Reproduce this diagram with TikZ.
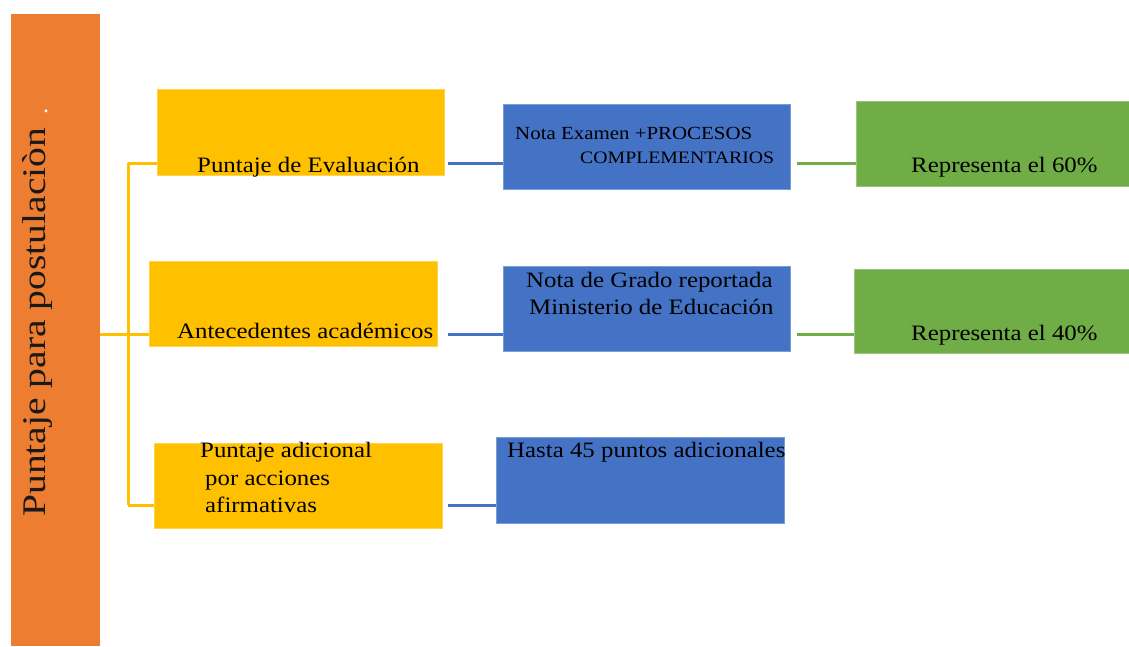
\documentclass[tikz,border=0pt]{standalone}
\usepackage{fontspec}
\setmainfont[FakeStretch=1.13]{Liberation Serif}
\newfontfamily\rotfont[FakeStretch=1.2]{Liberation Serif}
\definecolor{cOrange}{HTML}{ED7D31}
\definecolor{cYellow}{HTML}{FFC000}
\definecolor{cBlue}{HTML}{4472C4}
\definecolor{cGreen}{HTML}{70AD47}
\tikzset{
  box/.style={rectangle, inner sep=0, outer sep=0, line width=0.8pt},
  ybox/.style={box, fill=cYellow, draw=cYellow!70!white},
  bbox/.style={box, fill=cBlue, draw=cBlue!70!white},
  gbox/.style={box, fill=cGreen, draw=cGreen!70!white},
  obox/.style={box, fill=cOrange},
  txt/.style={inner sep=0, anchor=base west, text=black, font=\fontsize{22}{26}\selectfont},
  stxt/.style={txt, font=\fontsize{18.5}{22}\selectfont},
  yline/.style={draw=cYellow, line width=3pt},
  bline/.style={draw=cBlue, line width=3pt},
  gline/.style={draw=cGreen, line width=3pt},
}
\begin{document}
\begin{tikzpicture}[x=1pt,y=-1pt]
\useasboundingbox (0,0) rectangle (1129,646);
% boxes
\node[obox, minimum width=89pt, minimum height=632pt] (root) at (55.5,330) {};
\node[ybox, minimum width=287pt, minimum height=86pt] (y1) at (300.5,132) {};
\node[ybox, minimum width=288pt, minimum height=85pt] (y2) at (293,303.5) {};
\node[ybox, minimum width=288pt, minimum height=85pt] (y3) at (298,485.5) {};
\node[bbox, minimum width=287pt, minimum height=85pt] (b1) at (646.5,146.5) {};
\node[bbox, minimum width=287pt, minimum height=85pt] (b2) at (646.5,308.5) {};
\node[bbox, minimum width=288pt, minimum height=86pt] (b3) at (640,480) {};
\node[gbox, minimum width=273pt, minimum height=85pt] (g1) at (992.5,143.5) {};
\node[gbox, minimum width=275pt, minimum height=84pt] (g2) at (991.5,311) {};
% row coordinates
\coordinate (r1) at (128,163);
\coordinate (r2) at (128,334);
\coordinate (r3) at (128,505);
% yellow connectors
\draw[yline] (r1) -- (r3);
\draw[yline] (root.east |- r2) -- (y2.west |- r2);
\draw[yline] (r1) -- (y1.west |- r1);
\draw[yline] (r3) -- (y3.west |- r3);
% blue connectors
\draw[bline] ([xshift=4pt]y1.east |- r1) -- (b1.west |- r1);
\draw[bline] ([xshift=11pt]y2.east |- r2) -- (b2.west |- r2);
\draw[bline] ([xshift=6pt]y3.east |- r3) -- (b3.west |- r3);
% green connectors
\draw[gline] ([xshift=7pt]b1.east |- r1) -- (g1.west |- r1);
\draw[gline] ([xshift=7pt]b2.east |- r2) -- (g2.west |- r2);
% texts
\node[inner sep=0, anchor=base west, rotate=90, text=black!90, font=\rotfont\fontsize{33}{38}\selectfont] (roottext) at (45,517) {Puntaje para postulaciòn};
\node[inner sep=0, anchor=base, rotate=90, text=white, font=\fontsize{22}{26}\selectfont] (rootdot) at (47,111) {.};
\node[txt] (y1t) at (197,172) {Puntaje de Evaluación};
\node[txt] (y2t) at (177,338) {Antecedentes académicos};
\node[txt] (y3ta) at (200,457) {Puntaje adicional};
\node[txt] (y3tb) at (205,485) {por acciones};
\node[txt] (y3tc) at (205,512) {afirmativas};
\node[stxt] (b1ta) at (515,139) {Nota Examen +PROCESOS};
\node[stxt, font=\fontsize{17.5}{21}\selectfont] (b1tb) at (580,163) {COMPLEMENTARIOS};
\node[txt] (b2ta) at (526,287) {Nota de Grado reportada};
\node[txt] (b2tb) at (529,314) {Ministerio de Educación};
\node[txt] (b3t) at (507,457) {Hasta 45 puntos adicionales};
\node[txt] (g1t) at (911,172) {Representa el 60\%};
\node[txt] (g2t) at (911,340) {Representa el 40\%};
\end{tikzpicture}
\end{document}
